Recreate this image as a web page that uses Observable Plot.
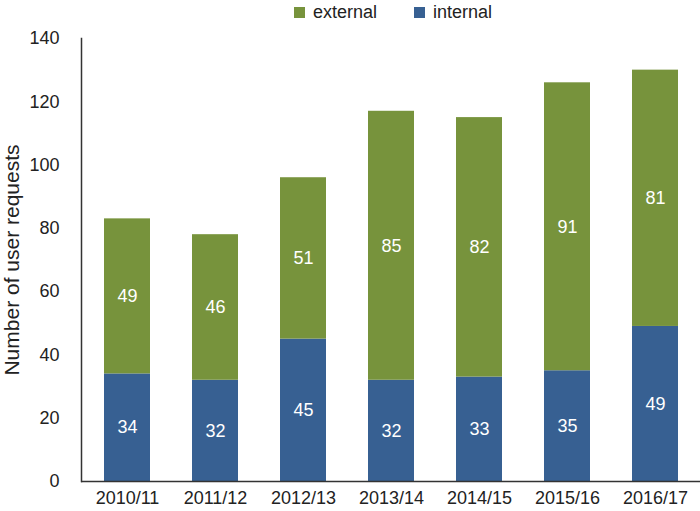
<!DOCTYPE html>
<html><head>
<meta charset="utf-8">
<script src="https://cdn.jsdelivr.net/npm/d3@7"></script>
<script src="https://cdn.jsdelivr.net/npm/@observablehq/plot@0.6"></script>
<style>
body{margin:0;background:#fff;font-family:"Liberation Sans",Arial,sans-serif;}
#legend{height:24px;display:flex;align-items:center;font-size:18px;color:#222;padding-left:294px;}
#legend .sw{display:inline-block;width:11px;height:11px;margin-right:8px;}
#legend .item{display:flex;align-items:center;margin-right:37px;}
</style></head><body>
<div id="legend"></div><div id="chart"></div>
<script>
const years = ["2010/11","2011/12","2012/13","2013/14","2014/15","2015/16","2016/17"];
const internal = [34,32,45,32,33,35,49];
const external = [49,46,51,85,82,91,81];
const types = ["internal","external"];
const colors = ["#376092","#77933c"];
const legendOrder = ["external","internal"];
const yTicks = [0,20,40,60,80,100,120,140];
const yTitle = "Number of user requests";

const series = {internal, external};
const data = types.flatMap(t => years.map((y,j) => ({year:y, type:t, value:series[t][j]})));

const leg = document.getElementById("legend");
legendOrder.forEach(t => {
  const it = document.createElement("span"); it.className="item";
  const sw = document.createElement("span"); sw.className="sw";
  sw.style.background = colors[types.indexOf(t)];
  it.appendChild(sw); it.appendChild(document.createTextNode(t));
  leg.appendChild(it);
});

const chart = Plot.plot({
  width:700, height:487, marginTop:14, marginBottom:30, marginLeft:81, marginRight:0,
  style:{fontFamily:"Liberation Sans, Arial, sans-serif", fontSize:"18px", color:"#222", background:"white"},
  x:{domain:years, paddingInner:0.48, paddingOuter:0.23, label:null},
  y:{domain:[0,140], label:null},
  color:{domain:types, range:colors},
  marks:[
    Plot.barY(data, {x:"year", y:"value", fill:"type"}),
    Plot.text(data, Plot.stackY({x:"year", y:"value", z:"type", text:"value", fill:"white", fontSize:18})),
    Plot.axisX({tickSize:0, tickPadding:10, fontSize:18, label:null}),
    Plot.axisY({ticks:yTicks, tickSize:0, tickPadding:22, fontSize:18, label:null}),
    Plot.text([yTitle], {frameAnchor:"left", rotate:-90, dx:-69, lineAnchor:"middle", textAnchor:"middle", fontSize:21, fill:"#222"}),
    Plot.ruleY([0], {stroke:"#333", strokeWidth:1.5}),
    Plot.frame({anchor:"left", stroke:"#333", strokeWidth:1.5})
  ]
});
document.getElementById("chart").appendChild(chart);
</script>
</body></html>
